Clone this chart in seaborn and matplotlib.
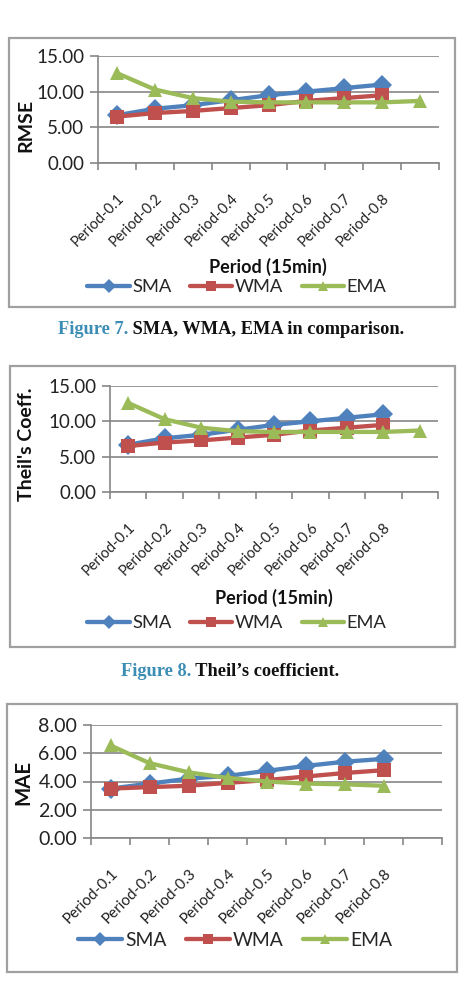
import numpy as np
import pandas as pd
import seaborn as sns
import matplotlib
matplotlib.use("Agg")
import matplotlib.pyplot as plt
from matplotlib.patches import Rectangle
from matplotlib.ticker import FormatStrFormatter, FixedLocator
from matplotlib.offsetbox import TextArea, HPacker, AnnotationBbox

# ---------------- data ----------------
periods = ['Period-0.1', 'Period-0.2', 'Period-0.3', 'Period-0.4',
           'Period-0.5', 'Period-0.6', 'Period-0.7', 'Period-0.8', ' ']

rmse_sma = [6.7, 7.6, 8.1, 8.8, 9.5, 10.0, 10.5, 11.0]
rmse_wma = [6.5, 7.0, 7.3, 7.7, 8.1, 8.7, 9.1, 9.5]
rmse_ema = [12.6, 10.3, 9.1, 8.6, 8.5, 8.5, 8.5, 8.5, 8.7]

theil_sma = [6.7, 7.6, 8.1, 8.8, 9.5, 10.0, 10.5, 11.0]
theil_wma = [6.5, 7.0, 7.3, 7.7, 8.1, 8.7, 9.1, 9.5]
theil_ema = [12.6, 10.3, 9.1, 8.6, 8.5, 8.5, 8.5, 8.5, 8.7]

mae_sma = [3.5, 3.85, 4.2, 4.4, 4.75, 5.1, 5.4, 5.6]
mae_wma = [3.5, 3.6, 3.7, 3.9, 4.1, 4.35, 4.6, 4.8]
mae_ema = [6.55, 5.3, 4.65, 4.25, 4.0, 3.85, 3.8, 3.7]

series_names = ['SMA', 'WMA', 'EMA']
colors = {'SMA': '#4F81BD', 'WMA': '#C0504D', 'EMA': '#9BBB59'}
markers = {'SMA': 'D', 'WMA': 's', 'EMA': '^'}

# ---------------- style ----------------
sns.set_style("white")
plt.rcParams['font.family'] = ['Lato', 'DejaVu Sans']

W, H = 463, 986
fig = plt.figure(figsize=(W / 100, H / 100), dpi=100)
fig.patch.set_facecolor('white')

GRID = '#868686'


def px_rect(l, r, t, b):
    return [l / W, 1 - b / H, (r - l) / W, (b - t) / H]


def fx(x):
    return x / W


def fy(y):
    return 1 - y / H


def panel(axrect, sma, wma, ema, ylabel, ylab_xy, yticks, xlabel, xlab_xy, leg_xy, box,
          scale=1.0):
    bx0, bx1, by0, by1 = box
    fig.add_artist(Rectangle((fx(bx0), fy(by1)), (bx1 - bx0) / W, (by1 - by0) / H,
                             transform=fig.transFigure, fill=False,
                             edgecolor='#a0a0a0', lw=1.6))
    ax = fig.add_axes(px_rect(*axrect))
    rows = []
    for name, vals in zip(series_names, [sma, wma, ema]):
        for p, v in zip(periods, vals):
            rows.append({'period': p, 'value': v, 'series': name})
    df = pd.DataFrame(rows)
    df['period'] = pd.Categorical(df['period'], categories=periods, ordered=True)
    sns.lineplot(data=df, x='period', y='value', hue='series', style='series',
                 hue_order=series_names, style_order=series_names,
                 palette=colors, markers=markers, dashes=False, sort=False,
                 linewidth=3.1, markersize=10.5, markeredgewidth=0, ax=ax,
                 legend=True)
    ax.set_xlim(-0.5, len(periods) - 0.5)
    ax.set_ylim(yticks[0], yticks[-1])
    ax.set_yticks(yticks)
    ax.yaxis.set_major_formatter(FormatStrFormatter('%.2f'))
    ax.grid(axis='y', color=GRID, lw=1.2)
    ax.grid(axis='x', visible=False)
    for s in ['top', 'right']:
        ax.spines[s].set_visible(False)
    for s in ['left', 'bottom']:
        ax.spines[s].set_color(GRID)
        ax.spines[s].set_linewidth(1.2)
    ax.set_xlabel('')
    ax.set_ylabel('')
    ax.tick_params(axis='y', labelsize=13.5 * scale, length=6, color=GRID, width=1.2,
                   pad=4, left=True, labelcolor='#222222')
    ax.set_xticks(range(len(periods)))
    ax.set_xticklabels(periods, rotation=45, ha='right', rotation_mode='anchor',
                       fontsize=10.5 * scale, color='#222222')
    ax.tick_params(axis='x', which='major', length=0, pad=20)
    ax.xaxis.set_minor_locator(FixedLocator(np.arange(-0.5, len(periods), 1.0)))
    ax.tick_params(axis='x', which='minor', length=5, color=GRID, width=1.2, bottom=True)
    fig.text(fx(ylab_xy[0]), fy(ylab_xy[1]), ylabel, rotation=90, ha='center',
             va='center', fontsize=14 * scale, fontweight='bold', color='#111111')
    if xlabel:
        fig.text(fx(xlab_xy[0]), fy(xlab_xy[1]), xlabel, ha='center', va='center',
                 fontsize=13, fontweight='bold', color='#111111')
    sns.move_legend(ax, loc='center', bbox_to_anchor=(fx(leg_xy[0]), fy(leg_xy[1])),
                    bbox_transform=fig.transFigure, ncol=3, frameon=False, title=None,
                    fontsize=13.2 * scale, handlelength=2.3, columnspacing=1.0,
                    handletextpad=0.15, borderaxespad=0, markerscale=0.7)
    return ax


def caption(x, y, num, rest):
    t1 = TextArea(num, textprops=dict(color='#3C8DB5', fontsize=13.2, fontweight='bold',
                                      family='Liberation Serif'))
    t2 = TextArea(rest, textprops=dict(color='#111111', fontsize=13.2, fontweight='bold',
                                       family='Liberation Serif'))
    pack = HPacker(children=[t1, t2], align='baseline', pad=0, sep=0)
    ab = AnnotationBbox(pack, (fx(x), fy(y)), xycoords='figure fraction',
                        box_alignment=(0.5, 0.5), frameon=False)
    fig.add_artist(ab)


panel((98, 439, 56, 163), rmse_sma, rmse_wma, rmse_ema, 'RMSE', (26, 125),
      [0, 5, 10, 15], 'Period (15min)', (268, 267), (237, 287), (9, 455, 38, 307))
caption(231, 330, 'Figure 7.', ' SMA, WMA, EMA in comparison.')

panel((110, 438, 386, 492), theil_sma, theil_wma, theil_ema, "Theil's Coeff.", (27, 444),
      [0, 5, 10, 15], 'Period (15min)', (274, 598), (237, 623), (10, 455, 366, 647))
caption(230, 672, 'Figure 8.', " Theil\u2019s coefficient.")

panel((91, 442, 725, 838), mae_sma, mae_wma, mae_ema, 'MAE', (23, 782),
      [0, 2, 4, 6, 8], None, None, (235, 940), (7, 457, 704, 972), scale=1.05)

fig.savefig('out.png', dpi=100, facecolor='white')
